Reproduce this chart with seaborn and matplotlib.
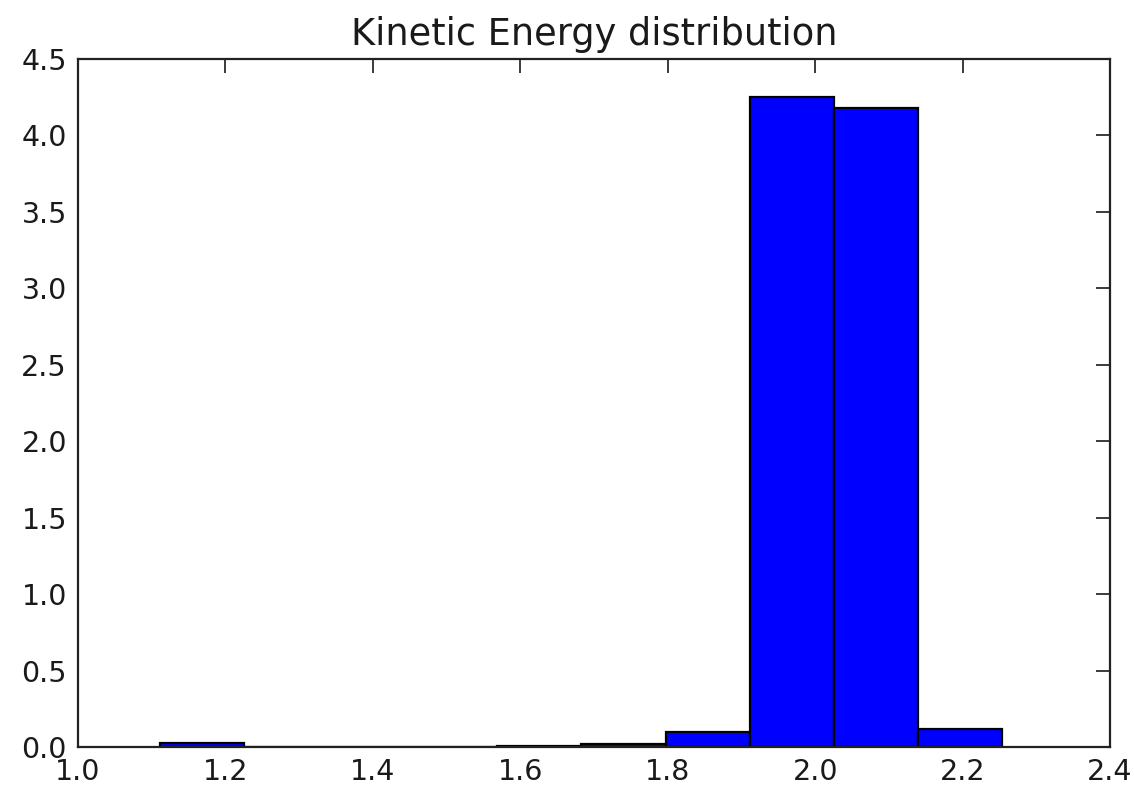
import numpy as np
import pandas as pd
import matplotlib
matplotlib.use("Agg")
import matplotlib.pyplot as plt
import seaborn as sns

# bin edges and normalised heights
bin_edges = [1.111, 1.225, 1.340, 1.454, 1.568, 1.683, 1.797, 1.911, 2.026, 2.140, 2.254]
heights = [0.025, 0.0, 0.0, 0.0, 0.008, 0.02, 0.10, 4.25, 4.18, 0.116]
x_ticks = [1.0, 1.2, 1.4, 1.6, 1.8, 2.0, 2.2, 2.4]
y_ticks = [0.0, 0.5, 1.0, 1.5, 2.0, 2.5, 3.0, 3.5, 4.0, 4.5]

centers = [(a + b) / 2 for a, b in zip(bin_edges[:-1], bin_edges[1:])]
df = pd.DataFrame({'energy': centers, 'density': heights})

sns.set_style("white")
plt.rcParams['font.family'] = ['DejaVu Sans']

fig, ax = plt.subplots(figsize=(11.34, 7.89), dpi=100)
sns.histplot(data=df, x='energy', weights='density', bins=bin_edges, stat='count',
             color='#0000ff', edgecolor='black', linewidth=1.6, alpha=1.0, ax=ax)

ax.set_xlim(1.0, 2.4)
ax.set_ylim(0, 4.5)
ax.set_xticks(x_ticks)
ax.set_yticks(y_ticks)
ax.set_xticklabels([f"{v:.1f}" for v in x_ticks])
ax.set_yticklabels([f"{v:.1f}" for v in y_ticks])
ax.set_xlabel('')
ax.set_ylabel('')
ax.set_title('Kinetic Energy distribution', fontsize=26.5, pad=10, color='#1a1a1a')

ax.tick_params(direction='in', length=10, width=1.2, top=True, right=True,
               labelsize=20.5, pad=8, colors='#1a1a1a')
for s in ax.spines.values():
    s.set_color('#222222')
    s.set_linewidth(1.6)

fig.subplots_adjust(left=78 / 1134, right=1110 / 1134, top=1 - 59 / 789, bottom=1 - 747 / 789)
plt.savefig("out.png", dpi=100)
